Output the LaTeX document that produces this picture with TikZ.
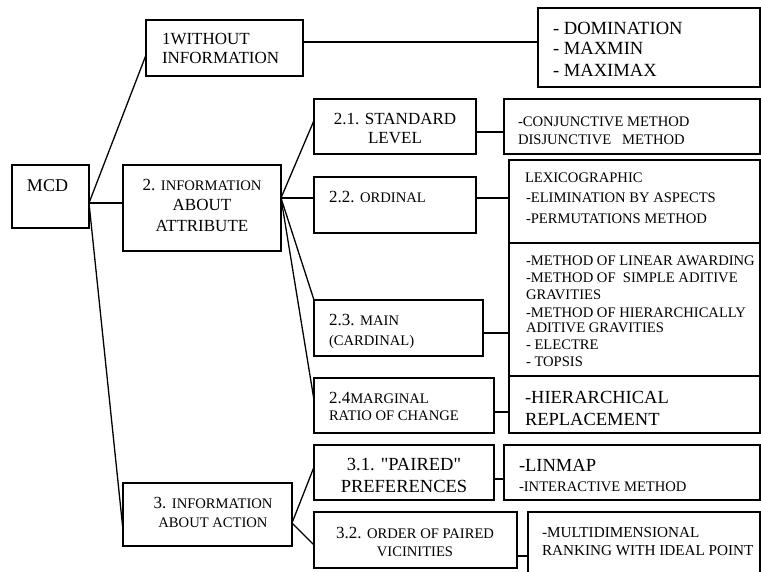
\documentclass[tikz,border=0pt]{standalone}
\usepackage{fontspec}
\setmainfont{Liberation Serif}
\newcommand{\fa}{\fontsize{17}{20}\selectfont}
\newcommand{\fb}{\fontsize{14.6}{17}\selectfont}
\newcommand{\fc}{\fontsize{18.5}{22}\selectfont}
\newcommand{\fd}{\fontsize{18}{21}\selectfont}
\newcommand{\fe}{\fontsize{18.6}{22}\selectfont}
\newcommand{\ff}{\fontsize{15.2}{18}\selectfont}
\newcommand{\sq}{\XeTeXglyph\XeTeXcharglyph"22\relax}
\tikzset{
  box/.style={draw, line width=1.3pt, inner sep=0pt, outer sep=0pt},
  conn/.style={line width=1.3pt},
  tx/.style={inner sep=0pt, outer sep=0pt, anchor=base west},
  tc/.style={inner sep=0pt, outer sep=0pt, anchor=base}
}
\newcommand{\bx}[5]{\node[box, minimum width={#4-#2}, minimum height={#5-#3}] (#1) at ({(#2+#4)/2},{(#3+#5)/2}) {};}
\newcommand{\tline}[4]{\node[tx] (#1) at (#2,#3) {#4};}
\newcommand{\tcen}[4]{\node[tc] (#1) at (#2,#3) {#4};}
\begin{document}
\begin{tikzpicture}[x=1pt,y=-1pt]
\useasboundingbox (0,0) rectangle (761,571);
% boxes
\bx{mcd}{12}{165}{89}{228}
\bx{w1}{146}{20}{303}{76}
\bx{dom}{538}{8}{760}{87}
\bx{info2}{123}{165}{281}{251}
\bx{s21}{314}{99}{476}{154}
\bx{conj}{504}{99}{760}{154}
\bx{s22}{314}{177}{476}{233}
\bx{lex}{509}{160}{760}{243}
\bx{s23}{314}{300}{483}{356}
\bx{meth}{509}{243}{760}{376}
\bx{s24}{314}{378}{494}{433}
\bx{hier}{509}{376}{760}{433}
\bx{info3}{123}{483}{292}{546}
\bx{s31}{314}{445}{494}{500}
\bx{lin}{504}{445}{760}{500}
\bx{s32}{314}{512}{517}{568}
\bx{multi}{528}{512}{760}{600}
% connectors
\draw[conn] ([yshift=-6.5]mcd.east) -- ([yshift=-7]w1.west);
\draw[conn] ([yshift=-6.5]mcd.east) -- ([yshift=5]info2.west);
\draw[conn] ([yshift=-6.5]mcd.east) -- ([yshift=-15.5]info3.west);
\draw[conn] ([yshift=6]w1.east) -- ([yshift=5.5]dom.west);
\draw[conn] ([yshift=10]info2.east) -- ([yshift=6]s21.west);
\draw[conn] ([yshift=10]info2.east) -- ([yshift=7]s22.west);
\draw[conn] ([yshift=10]info2.east) -- (s23.north west);
\draw[conn] ([yshift=10]info2.east) -- ([yshift=5.5]s24.west);
\draw[conn] ([yshift=-5.5]s21.east) -- ([yshift=-5.5]conj.west);
\draw[conn] ([yshift=7]s22.east) -- ([yshift=3.5]lex.west);
\draw[conn] ([yshift=-5]s23.east) -- ([yshift=-23.5]meth.west);
\draw[conn] ([yshift=-6.5]s24.east) -- ([yshift=-7.5]hier.west);
\draw[conn] ([yshift=-8.5]info3.east) -- ([yshift=5.5]s31.west);
\draw[conn] ([yshift=-8.5]info3.east) -- ([yshift=-5]s32.west);
\draw[conn] ([yshift=-6.5]s31.east) -- ([yshift=-6.5]lin.west);
\draw[conn] ([yshift=-16]s32.east) -- ([yshift=0]multi.west);
% texts
\tline{tmcd}{27}{191}{\fd MCD}
\tline{tw1a}{162}{44}{\fa 1WITHOUT}
\tline{tw1b}{162}{63}{\fa INFORMATION}
\tline{tdoma}{553}{34}{\fe - DOMINATION}
\tline{tdomb}{553}{54}{\fe - MAXMIN}
\tline{tdomc}{553}{76}{\fe - MAXIMAX}
\tcen{ti2a}{202}{190}{\fa 2. \fb INFORMATION}
\tcen{ti2b}{202}{210}{\fa ABOUT}
\tcen{ti2c}{202}{231}{\fa ATTRIBUTE}
\tcen{t21a}{395}{124}{\fa 2.1. STANDARD}
\tcen{t21b}{395}{143}{\fa LEVEL}
\tline{tconja}{518}{126}{\fb -CONJUNCTIVE METHOD}
\tline{tconjb}{518}{144}{\fb DISJUNCTIVE~~~METHOD}
\tline{t22}{329}{202}{\fa 2.2. \fb ORDINAL}
\tline{tlexa}{525}{182}{\fb LEXICOGRAPHIC}
\tline{tlexb}{526}{202}{\fb -ELIMINATION BY ASPECTS}
\tline{tlexc}{526}{223}{\fb -PERMUTATIONS METHOD}
\tline{tma}{526}{265}{\fb -METHOD OF LINEAR AWARDING}
\tline{tmb}{526}{282}{\fb -METHOD OF~~SIMPLE ADITIVE}
\tline{tmc}{526}{299}{\fb GRAVITIES}
\tline{tmd}{526}{317}{\fb -METHOD OF HIERARCHICALLY}
\tline{tme}{526}{332}{\fb ADITIVE GRAVITIES}
\tline{tmf}{526}{349}{\fb - ELECTRE}
\tline{tmg}{526}{366}{\fb - TOPSIS}
\tline{t23a}{329}{325}{\fa 2.3. \fb MAIN}
\tline{t23b}{329}{345}{\fb (CARDINAL)}
\tline{t24a}{329}{403}{\fa 2.4\fb MARGINAL}
\tline{t24b}{329}{420}{\fb RATIO OF CHANGE}
\tline{thiera}{525}{403}{\fc -HIERARCHICAL}
\tline{thierb}{525}{425}{\fc REPLACEMENT}
\tcen{t31a}{404}{470}{\fc 3.1. \sq PAIRED\sq}
\tcen{t31b}{404}{492}{\fc PREFERENCES}
\tline{tlina}{519}{471}{\fc -LINMAP}
\tline{tlinb}{519}{491}{\fb -INTERACTIVE METHOD}
\tcen{t32a}{415}{538}{\fa 3.2. \fb ORDER OF PAIRED}
\tcen{t32b}{415}{556}{\fb VICINITIES}
\tline{tmula}{542}{537}{\ff -MULTIDIMENSIONAL}
\tline{tmulb}{542}{555}{\ff RANKING WITH IDEAL POINT}
\tcen{ti3a}{213}{508}{\fa 3. \fb INFORMATION}
\tcen{ti3b}{213}{527}{\fb ABOUT ACTION}
\end{tikzpicture}
\end{document}
